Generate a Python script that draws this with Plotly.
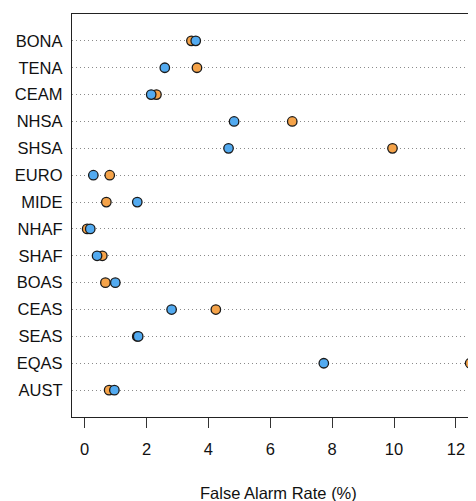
import plotly.graph_objects as go

regions = ["BONA", "TENA", "CEAM", "NHSA", "SHSA", "EURO", "MIDE",
           "NHAF", "SHAF", "BOAS", "CEAS", "SEAS", "EQAS", "AUST"]
orange_vals = [3.45, 3.63, 2.32, 6.71, 9.95, 0.81, 0.70,
               0.08, 0.57, 0.67, 4.24, 1.70, 12.46, 0.79]
blue_vals = [3.59, 2.59, 2.15, 4.83, 4.65, 0.28, 1.70,
             0.18, 0.40, 0.99, 2.81, 1.73, 7.73, 0.96]
x_ticks = [0, 2, 4, 6, 8, 10, 12]
x_title = "False Alarm Rate (%)"

ORANGE = "#F5A349"
BLUE = "#52AAF0"
FONT = "Liberation Sans, Arial, sans-serif"
FS = 16.5

fig = go.Figure()
fig.add_trace(go.Scatter(
    x=orange_vals, y=regions, mode="markers",
    marker=dict(size=9.5, color=ORANGE, line=dict(color="#1a1a1a", width=1.3)),
    showlegend=False, cliponaxis=False))
fig.add_trace(go.Scatter(
    x=blue_vals, y=regions, mode="markers",
    marker=dict(size=9.5, color=BLUE, line=dict(color="#1a1a1a", width=1.3)),
    showlegend=False, cliponaxis=False))

# page body has an 8px margin, so the figure is shifted by (8, 8)
fig.update_layout(
    width=468, height=493,
    margin=dict(l=64, r=0, t=6, b=84, autoexpand=False),
    paper_bgcolor="white", plot_bgcolor="white",
    font=dict(family=FONT, size=FS, color="#111"),
    xaxis=dict(
        range=[-0.41, 12.65], tickvals=x_ticks, ticks="outside", ticklen=10,
        tickwidth=1.3, tickcolor="#333", showgrid=False, zeroline=False,
        showline=True, mirror=True, linecolor="#222", linewidth=1.4,
        tickfont=dict(size=FS, family=FONT, color="#111"),
        ticklabelstandoff=7, automargin=False,
    ),
    yaxis=dict(
        type="category", categoryorder="array",
        categoryarray=list(reversed(regions)),
        range=[-1, 14], ticks="", showline=True, mirror=False,
        linecolor="#222", linewidth=1.4,
        showgrid=True, gridcolor="#8a8a8a", gridwidth=1, griddash="1px,3px",
        zeroline=False, ticklabelstandoff=5, automargin=False,
        tickfont=dict(size=FS, family=FONT, color="#111"),
    ),
    annotations=[dict(
        text=x_title, xref="paper", yref="paper", x=0.512, y=-0.1886,
        xanchor="center", yanchor="middle", showarrow=False,
        font=dict(size=FS, family=FONT, color="#111"))],
)

fig.write_html("out.html")
